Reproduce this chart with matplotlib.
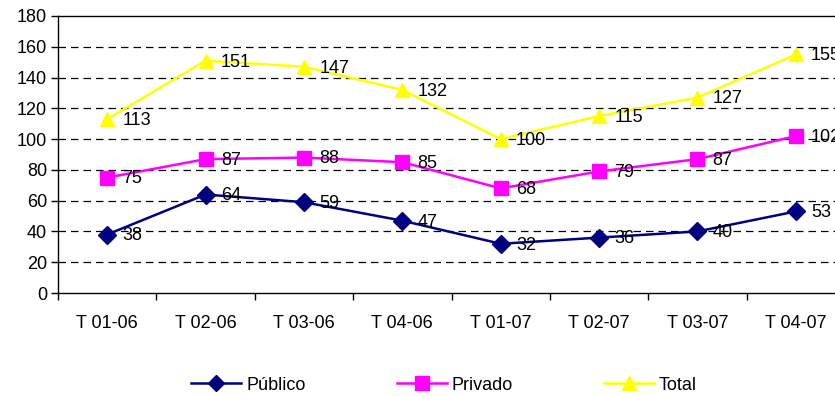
import matplotlib
matplotlib.use("Agg")
import matplotlib.pyplot as plt
import numpy as np

plt.rcParams['font.family'] = ['Liberation Sans', 'DejaVu Sans']

categories = ["T 01-06", "T 02-06", "T 03-06", "T 04-06", "T 01-07", "T 02-07", "T 03-07", "T 04-07"]
publico = [38, 64, 59, 47, 32, 36, 40, 53]
privado = [75, 87, 88, 85, 68, 79, 87, 102]
total = [113, 151, 147, 132, 100, 115, 127, 155]

FS = 13

fig = plt.figure(figsize=(8.35, 3.96), dpi=100)
ax = fig.add_axes([58 / 835, 1 - 293 / 396, 787 / 835, 277 / 396])

x = np.arange(len(categories))
series = [
    ("Público", publico, "#000080", "D", 9),
    ("Privado", privado, "#FF00FF", "s", 10),
    ("Total", total, "#FFFF00", "^", 10.5),
]
for name, vals, col, mk, ms in series:
    ax.plot(x, vals, color=col, lw=1.8, marker=mk, markersize=ms,
            markerfacecolor=col, markeredgecolor=col, label=name, zorder=3)
    for xi, v in zip(x, vals):
        ax.annotate(str(v), (xi, v), xytext=(11, -1), textcoords="offset points",
                    ha="left", va="center", fontsize=FS, color="black", zorder=4)

ax.set_xlim(-0.5, len(categories) - 0.5)
ax.set_ylim(0, 180)
ax.set_yticks(np.arange(0, 181, 20))
for yv in np.arange(20, 180, 20):
    ax.axhline(yv, color="black", lw=0.9, dashes=(6, 4), zorder=1)

ax.set_xticks(x)
ax.set_xticklabels(categories)
ax.set_xticks(np.arange(-0.5, len(categories) + 0.5, 1), minor=True)
ax.tick_params(axis="x", which="major", length=0, pad=16, labelsize=FS)
ax.tick_params(axis="x", which="minor", length=5, width=1, direction="out")
ax.tick_params(axis="y", length=5, width=1, direction="out", pad=3, labelsize=FS)

for s in ["left", "bottom", "top"]:
    ax.spines[s].set_color("black")
    ax.spines[s].set_linewidth(1)
ax.spines["right"].set_visible(False)

handles, labels = ax.get_legend_handles_labels()
fig.legend(handles, labels, loc="center", bbox_to_anchor=(0.532, 1 - 385 / 396),
           ncol=3, frameon=False, fontsize=FS, handlelength=2.77,
           handletextpad=0.3, columnspacing=5.0, markerscale=0.95)

fig.savefig("out.png", dpi=100)
